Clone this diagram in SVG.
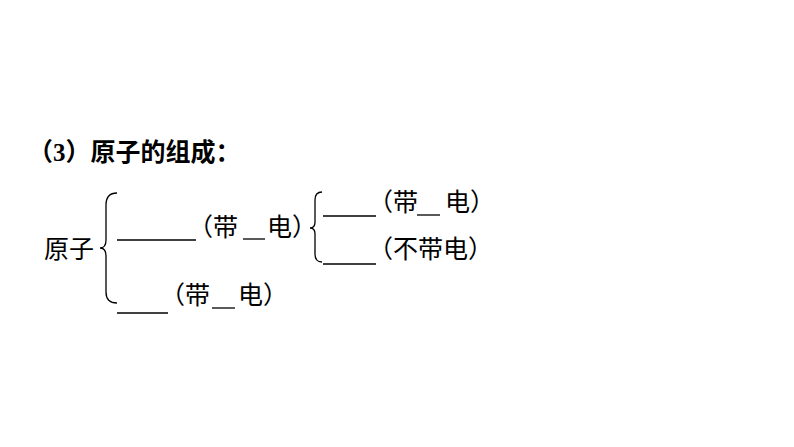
<svg xmlns="http://www.w3.org/2000/svg" width="794" height="447" viewBox="0 0 794 447">
<style>
text{font-family:"Liberation Serif","Noto Sans CJK SC",serif;font-size:25px;fill:#000}
.l{stroke:#000;stroke-width:1.3;fill:none}
</style>
<rect width="794" height="447" fill="#fff"/>
<g id="title"><text x="28" y="161" font-weight="bold">（<tspan>3</tspan>）原子的组成：</text></g>
<g id="atom"><text x="44" y="258">原子</text></g>
<g id="connectors">
<path class="l" d="M117 193 Q106 193 106 205 L106 240 Q106 248 100 248 Q106 248 106 256 L106 292 Q106 303 117 303"/>
<path class="l" d="M322 192 Q315 192 315 200 L315 222 Q315 228 310 228 Q315 228 315 234 L315 254 Q315 262 322 262"/>
</g>
<g id="nucleus">
<line class="l" x1="117" y1="240" x2="196" y2="240"/>
<text x="188" y="236">（带</text><line class="l" x1="243" y1="239" x2="265" y2="239"/><text x="267" y="236">电）</text>
</g>
<g id="proton">
<line class="l" x1="323" y1="216" x2="376" y2="216"/>
<text x="368" y="211">（带</text><line class="l" x1="417" y1="215" x2="440" y2="215"/><text x="445" y="211">电）</text>
</g>
<g id="neutron">
<line class="l" x1="323" y1="264" x2="376" y2="264"/>
<text x="368" y="258">（不带电）</text>
</g>
<g id="electron">
<line class="l" x1="117" y1="313" x2="168" y2="313"/>
<text x="160" y="304">（带</text><line class="l" x1="212" y1="308" x2="235" y2="308"/><text x="238" y="304">电）</text>
</g>
</svg>
